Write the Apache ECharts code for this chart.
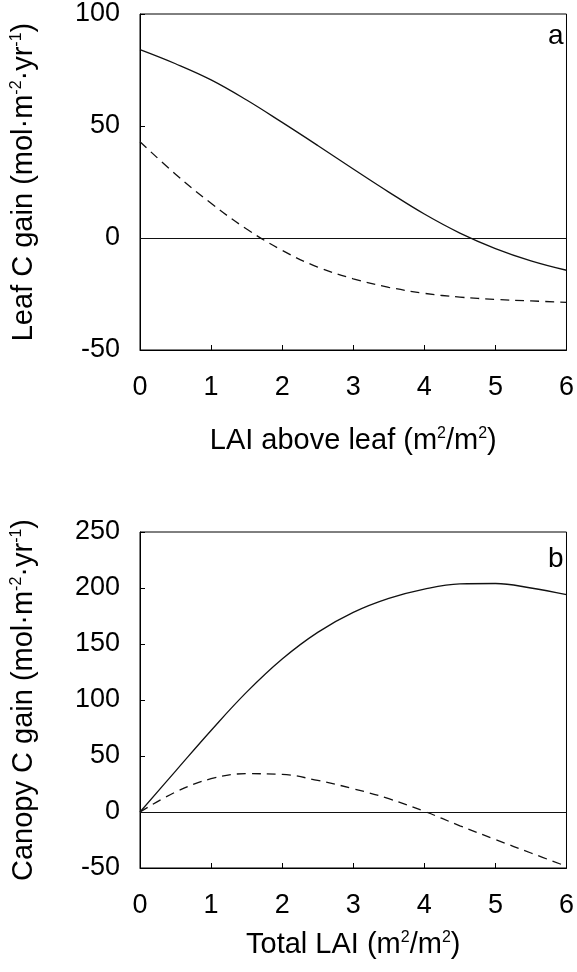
<!DOCTYPE html>
<html>
<head>
<meta charset="utf-8">
<script src="https://cdn.jsdelivr.net/npm/echarts@6/dist/echarts.min.js"></script>
<style>
html,body{margin:0;padding:0;background:#fff;}
#c{width:577px;height:972px;}
</style>
</head>
<body>
<div id="c"></div>
<script>
// ---- data ----
const xValues = [0, 0.5, 1, 1.5, 2, 2.5, 3, 3.5, 4, 4.5, 5, 5.5, 6];
// panel a: Leaf C gain vs LAI above leaf
const leafSolid  = [84.1, 77.8, 70.6, 61.6, 51.6, 41.3, 30.8, 20.5, 10.7, 2.2, -4.7, -10.2, -14.4];
const leafDashed = [43, 28.5, 15.5, 4, -5.5, -13, -18.2, -22, -24.7, -26.4, -27.4, -28.1, -28.7];
// panel b: Canopy C gain vs Total LAI
const canopySolid  = [0, 36.5, 72.8, 107, 136.6, 160.4, 178.2, 190.7, 199, 203.6, 204, 200, 194];
const canopyDashed = [0, 17.8, 29.7, 34.2, 33.6, 28.2, 20.8, 11.9, 0.6, -12.3, -24.6, -36.6, -48.5];
const xTicks = [0, 1, 2, 3, 4, 5, 6];
const yTicksA = [-50, 0, 50, 100];
const yTicksB = [-50, 0, 50, 100, 150, 200, 250];

const pairs = (xs, ys) => xs.map((x, i) => [x, ys[i]]);

const FONT = 'Liberation Sans';
const tickFont = 27;
const nameFont = 29;
const supStyle = {fontSize: 16, fontFamily: FONT, color: '#000', verticalAlign: 'top', lineHeight: 17};
const mainRich = {fontSize: nameFont, fontFamily: FONT, color: '#000', lineHeight: 30};

function xAxisCfg(gridIndex, name, gap) {
  return {
    type: 'value', gridIndex: gridIndex, min: xTicks[0], max: xTicks[xTicks.length - 1], interval: 1,
    name: name, nameLocation: 'middle', nameGap: gap,
    nameTextStyle: {fontSize: nameFont, fontFamily: FONT, color: '#000', rich: {s: supStyle, t: mainRich}},
    axisLine: {show: true, onZero: false, lineStyle: {color: '#000', width: 1}},
    axisTick: {show: true, inside: true, length: 5, lineStyle: {color: '#000'}},
    axisLabel: {fontSize: tickFont, fontFamily: FONT, color: '#000', margin: 24},
    splitLine: {show: false}
  };
}
function yAxisCfg(gridIndex, ticks, name) {
  return {
    type: 'value', gridIndex: gridIndex, min: ticks[0], max: ticks[ticks.length - 1], interval: 50,
    name: name, nameLocation: 'middle', nameGap: 101, nameRotate: 90,
    nameTextStyle: {fontSize: nameFont, fontFamily: FONT, color: '#000', rich: {s: supStyle, t: mainRich}},
    axisLine: {show: true, onZero: false, lineStyle: {color: '#000', width: 1}},
    axisTick: {show: true, inside: true, length: 5, lineStyle: {color: '#000'}},
    axisLabel: {fontSize: tickFont, fontFamily: FONT, color: '#000', margin: 20},
    splitLine: {show: false}
  };
}
function lineSeries(idx, data, dashed, withZero) {
  const s = {
    type: 'line', xAxisIndex: idx, yAxisIndex: idx, data: data, smooth: 0.4,
    showSymbol: false, symbol: 'none',
    lineStyle: {color: '#111', width: 1.3, type: dashed ? [9, 6] : 'solid'},
    z: 3
  };
  if (withZero) {
    s.markLine = {
      silent: true, symbol: 'none', label: {show: false},
      lineStyle: {color: '#111', width: 1.2, type: 'solid'},
      data: [{yAxis: 0}], animation: false
    };
  }
  return s;
}

const chart = echarts.init(document.getElementById('c'), null, {renderer: 'canvas'});
chart.setOption({
  animation: false,
  backgroundColor: '#fff',
  title: [
    {text: 'a', left: 543, top: 17, textStyle: {fontSize: 28, fontWeight: 'normal', fontFamily: FONT, color: '#000'}},
    {text: 'b', left: 543, top: 540, textStyle: {fontSize: 28, fontWeight: 'normal', fontFamily: FONT, color: '#000'}}
  ],
  grid: [
    {left: 140, right: 7, top: 14, height: 336, show: true, borderColor: '#000', borderWidth: 1, backgroundColor: 'transparent'},
    {left: 140, right: 7, top: 532, height: 336, show: true, borderColor: '#000', borderWidth: 1, backgroundColor: 'transparent'}
  ],
  xAxis: [
    xAxisCfg(0, '{t|LAI above leaf (m}{s|2}{t|/m}{s|2}{t|)}', 76),
    xAxisCfg(1, '{t|Total LAI (m}{s|2}{t|/m}{s|2}{t|)}', 62)
  ],
  yAxis: [
    yAxisCfg(0, yTicksA, '{t|Leaf C gain (mol·m}{s|-2}{t|·yr}{s|-1}{t|)}'),
    yAxisCfg(1, yTicksB, '{t|Canopy C gain (mol·m}{s|-2}{t|·yr}{s|-1}{t|)}')
  ],
  series: [
    lineSeries(0, pairs(xValues, leafSolid), false, true),
    lineSeries(0, pairs(xValues, leafDashed), true, false),
    lineSeries(1, pairs(xValues, canopySolid), false, true),
    lineSeries(1, pairs(xValues, canopyDashed), true, false)
  ]
});
</script>
</body>
</html>
